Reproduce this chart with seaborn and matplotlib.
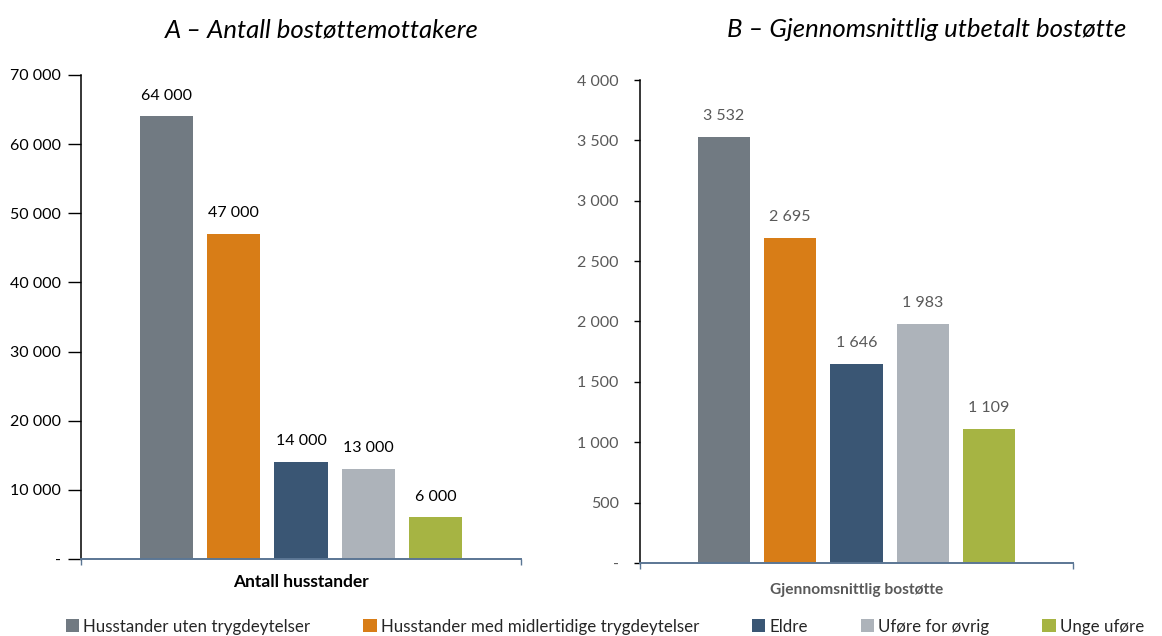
import matplotlib
matplotlib.use("Agg")
import matplotlib.pyplot as plt
import seaborn as sns
from matplotlib.patches import Patch
from matplotlib.ticker import FuncFormatter, MultipleLocator

categories = ["Husstander uten trygdeytelser",
              "Husstander med midlertidige trygdeytelser",
              "Eldre", "Uføre for øvrig", "Unge uføre"]
households = [64000, 47000, 14000, 13000, 6000]
avg_support = [3532, 2695, 1646, 1983, 1109]
colors = ["#717a82", "#d87d17", "#3a5674", "#adb3ba", "#a6b443"]

title_a = "A – Antall bostøttemottakere"
title_b = "B – Gjennomsnittlig utbetalt bostøtte"
xlabel_a = "Antall husstander"
xlabel_b = "Gjennomsnittlig bostøtte"

sns.set_theme(style="white")
plt.rcParams["font.family"] = ["Lato", "DejaVu Sans"]

fig = plt.figure(figsize=(11.62, 6.36), dpi=100)
ax_a = fig.add_axes([0.0697, 0.1211, 0.3787, 0.7610])
ax_b = fig.add_axes([0.5508, 0.1148, 0.3726, 0.7594])

dark = "#000000"
grey = "#595959"
axis_blue = "#5b7694"


def fmt(v, _=None):
    if v == 0:
        return "-"
    return f"{int(round(v)):,}".replace(",", " ")


def draw(ax, values, ymax, step, text_color, xlabel, tick_len, tick_pad,
         xlabel_size, xlabel_pad):
    sns.barplot(x=list(range(len(categories))), y=values,
                hue=list(range(len(categories))), palette=colors,
                width=0.79, legend=False, ax=ax, saturation=1,
                linewidth=0, native_scale=True)
    ax.set_xlim(-1.265, 5.265)
    ax.set_ylim(0, ymax)
    ax.yaxis.set_major_locator(MultipleLocator(step))
    ax.yaxis.set_major_formatter(FuncFormatter(fmt))
    ax.set_xticks([-1.265, 5.265])
    ax.set_xticklabels(["", ""])
    for s in ["top", "right"]:
        ax.spines[s].set_visible(False)
    ax.spines["left"].set_color("#000000")
    ax.spines["left"].set_linewidth(1.1)
    ax.spines["bottom"].set_color(axis_blue)
    ax.spines["bottom"].set_linewidth(1.4)
    ax.tick_params(axis="y", direction="out", length=tick_len, width=1,
                   color="#000000", labelsize=11.5, labelcolor=text_color,
                   pad=tick_pad, left=True)
    ax.tick_params(axis="x", direction="out", length=4, width=1,
                   color=axis_blue, bottom=True)
    ax.set_xlabel(xlabel, fontsize=xlabel_size, fontweight="bold",
                  color=text_color, labelpad=xlabel_pad)
    ax.set_ylabel("")
    for i, v in enumerate(values):
        ax.annotate(fmt(v), (i, v), xytext=(0, 10), textcoords="offset points",
                    ha="center", va="bottom", fontsize=11.5, color=text_color)


draw(ax_a, households, 70000, 10000, dark, xlabel_a, 9.4, 5, 12.5, 3)
draw(ax_b, avg_support, 4000, 500, grey, xlabel_b, 4.3, 11, 11.2, 7)

fig.text(0.2765, 0.953, title_a, ha="center", va="center", fontsize=18.5,
         style="italic", color="#000000")
fig.text(0.7975, 0.953, title_b, ha="center", va="center", fontsize=18.5,
         style="italic", color="#000000")

handles = [Patch(facecolor=c, edgecolor="none") for c in colors]
fig.legend(handles, categories, loc="lower center", ncol=5, frameon=False,
           bbox_to_anchor=(0.5205, -0.022), fontsize=12.2, handlelength=0.8,
           handleheight=0.8, handletextpad=0.25, columnspacing=3.1)

fig.savefig("out.png", dpi=100)
